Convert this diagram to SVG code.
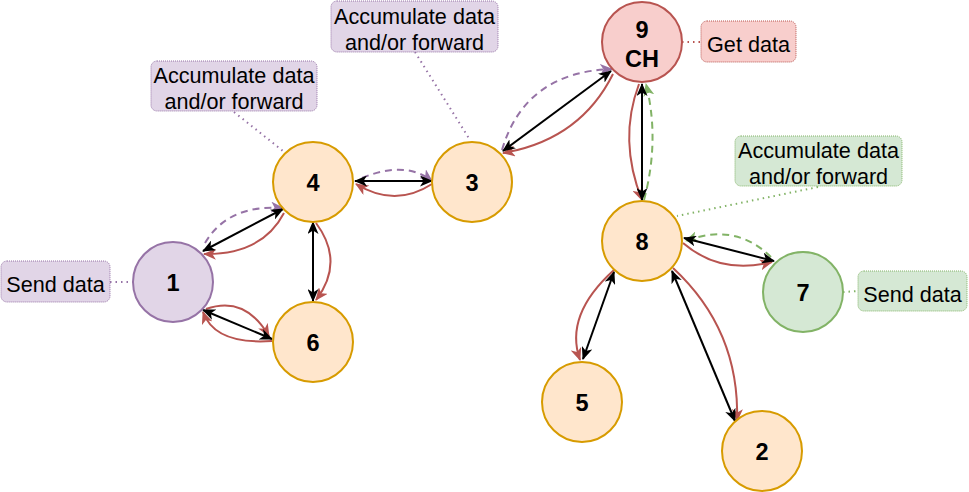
<svg xmlns="http://www.w3.org/2000/svg" width="969" height="492" viewBox="0 0 969 492">
<style>
.n{stroke-width:2}
.or{fill:#ffe6cc;stroke:#d79b00}
.pu{fill:#e1d5e7;stroke:#9673a6}
.re{fill:#f8cecc;stroke:#b85450}
.gr{fill:#d5e8d4;stroke:#82b366}
.nt{font-family:"Liberation Sans",Arial,sans-serif;font-weight:bold;font-size:23.5px;text-anchor:middle;fill:#000}
.lb{stroke-width:1;stroke-dasharray:1 1}
.lt{font-family:"Liberation Sans",Arial,sans-serif;font-size:21.6px;text-anchor:middle;fill:#000}
.e{fill:none;stroke-width:2}
.k{stroke:#000;marker-start:url(#ak);marker-end:url(#ak)}
.r{stroke:#b85450;marker-end:url(#ar)}
.dp{stroke:#9673a6;stroke-dasharray:7 5;marker-end:url(#ap)}
.dg{stroke:#82b366;stroke-dasharray:7 5;marker-end:url(#ag)}
.dot{fill:none;stroke-width:2;stroke-dasharray:1.5 4}
</style>
<defs>
<marker id="ak" viewBox="0 0 13 11" refX="12" refY="5.5" markerWidth="13" markerHeight="11" markerUnits="userSpaceOnUse" orient="auto-start-reverse"><path d="M0,0 L13,5.5 L0,11 L3.5,5.5 Z" fill="#000"/></marker>
<marker id="ar" viewBox="0 0 13 11" refX="12" refY="5.5" markerWidth="13" markerHeight="11" markerUnits="userSpaceOnUse" orient="auto"><path d="M0,0 L13,5.5 L0,11 L3.5,5.5 Z" fill="#b85450"/></marker>
<marker id="ap" viewBox="0 0 13 11" refX="12" refY="5.5" markerWidth="13" markerHeight="11" markerUnits="userSpaceOnUse" orient="auto"><path d="M0,0 L13,5.5 L0,11 L3.5,5.5 Z" fill="#9673a6"/></marker>
<marker id="ag" viewBox="0 0 13 11" refX="12" refY="5.5" markerWidth="13" markerHeight="11" markerUnits="userSpaceOnUse" orient="auto"><path d="M0,0 L13,5.5 L0,11 L3.5,5.5 Z" fill="#82b366"/></marker>
</defs>
<rect width="969" height="492" fill="#fff"/>
<g id="connectors">
<path class="dot" stroke="#9673a6" d="M110,282 L133,282"/>
<path class="dot" stroke="#9673a6" d="M234,112 L283,151"/>
<path class="dot" stroke="#9673a6" d="M415,52 L470,140"/>
<path class="dot" stroke="#b85450" d="M682,42 L701,42"/>
<path class="dot" stroke="#82b366" d="M818,187 L677,216"/>
<path class="dot" stroke="#82b366" d="M843,292 L858,291"/>
<path class="e dp" d="M205,243 Q228,204 283,208"/>
<path class="e r" d="M284,213 Q262,255 204,254"/>
<path class="e k" d="M203,251 L283,209"/>
<path class="e r" d="M206,309 Q245,295 269,336"/>
<path class="e r" d="M272,341 Q215,345 203,312"/>
<path class="e k" d="M203,310 L272,339"/>
<path class="e dp" d="M362,178 Q405,160 432,181"/>
<path class="e r" d="M432,184 Q395,208 356,184"/>
<path class="e k" d="M355,181 L432,181"/>
<path class="e r" d="M316,223 Q345,262 316,300"/>
<path class="e k" d="M313,222 L313,301"/>
<path class="e dp" d="M502,150 Q525,72 612,69"/>
<path class="e r" d="M613,74 Q580,140 503,153"/>
<path class="e k" d="M503,151 L611,71"/>
<path class="e r" d="M639,84 Q618,140 642,200"/>
<path class="e dg" d="M644,200 Q660,140 646,84"/>
<path class="e k" d="M642,84 L642,200"/>
<path class="e dg" d="M771,257 Q735,222 686,241"/>
<path class="e r" d="M683,243 Q720,275 772,262"/>
<path class="e k" d="M684,238 L774,261"/>
<path class="e r" d="M614,270 Q564,315 580,360"/>
<path class="e k" d="M614,272 L583,359"/>
<path class="e r" d="M673,268 Q740,330 737,421"/>
<path class="e k" d="M672,271 L735,421"/>
</g>
<g id="node-1"><circle class="n pu" cx="173" cy="282" r="40"/><text class="nt" x="173" y="290.5">1</text></g>
<g id="node-4"><circle class="n or" cx="313" cy="182" r="40"/><text class="nt" x="313" y="190.5">4</text></g>
<g id="node-3"><circle class="n or" cx="472" cy="182" r="40"/><text class="nt" x="472" y="190.5">3</text></g>
<g id="node-6"><circle class="n or" cx="313" cy="342" r="40"/><text class="nt" x="313" y="350.5">6</text></g>
<g id="node-9"><circle class="n re" cx="642" cy="42" r="40"/><text class="nt" x="642" y="37.5">9</text><text class="nt" x="642" y="66.5">CH</text></g>
<g id="node-8"><circle class="n or" cx="642" cy="241" r="40"/><text class="nt" x="642" y="249.5">8</text></g>
<g id="node-7"><circle class="n gr" cx="803" cy="292" r="40"/><text class="nt" x="803" y="300.5">7</text></g>
<g id="node-5"><circle class="n or" cx="582" cy="402" r="40"/><text class="nt" x="582" y="410.5">5</text></g>
<g id="node-2"><circle class="n or" cx="762" cy="451" r="40"/><text class="nt" x="762" y="459.5">2</text></g>
<g id="label-send-1"><rect class="lb pu" x="1" y="261" width="109" height="41" rx="6"/><text class="lt" x="55.5" y="291.5">Send data</text></g>
<g id="label-acc-4"><rect class="lb pu" x="151" y="61" width="166" height="50" rx="6"/><text class="lt" x="234" y="83">Accumulate data</text><text class="lt" x="234" y="109">and/or forward</text></g>
<g id="label-acc-3"><rect class="lb pu" x="331" y="1" width="167" height="51" rx="6"/><text class="lt" x="414.5" y="23.5">Accumulate data</text><text class="lt" x="414.5" y="49.5">and/or forward</text></g>
<g id="label-get"><rect class="lb re" x="701" y="21" width="95" height="41" rx="6"/><text class="lt" x="748.5" y="51.5">Get data</text></g>
<g id="label-acc-8"><rect class="lb gr" x="735" y="136" width="167" height="50" rx="6"/><text class="lt" x="818.5" y="158">Accumulate data</text><text class="lt" x="818.5" y="184">and/or forward</text></g>
<g id="label-send-7"><rect class="lb gr" x="858" y="271" width="109" height="40" rx="6"/><text class="lt" x="912.5" y="301.5">Send data</text></g>
</svg>
